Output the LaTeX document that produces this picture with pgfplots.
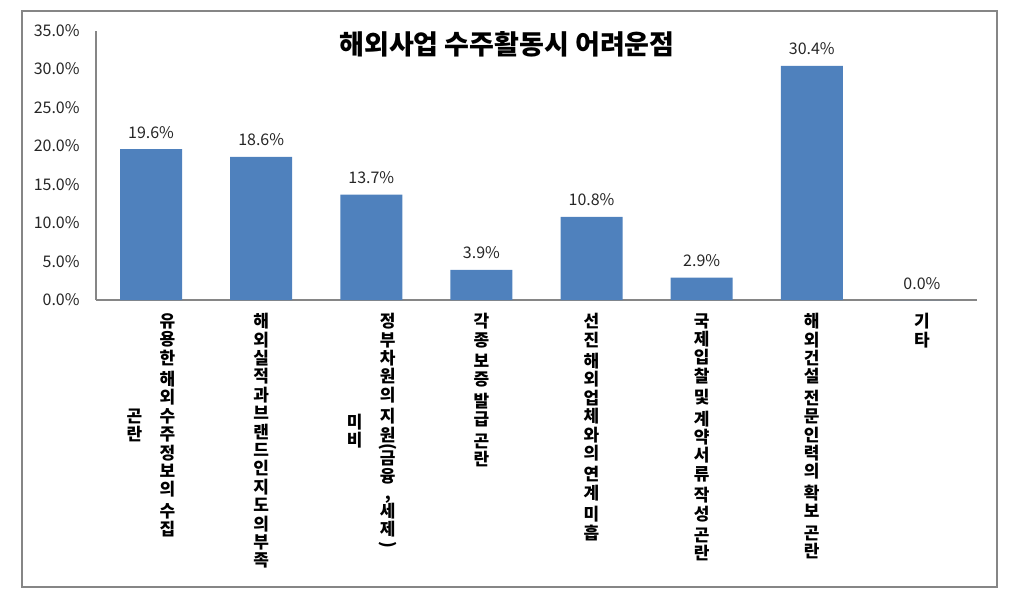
\documentclass[border=0pt]{standalone}
\usepackage{fontspec}
\setmainfont{Noto Sans CJK KR}
\usepackage{graphicx}
\usepackage{pgfplots}
\pgfplotsset{compat=1.18}
\definecolor{barblue}{HTML}{4F81BD}
\definecolor{axisgray}{HTML}{868686}
\definecolor{txt}{HTML}{262626}
\newcommand\V[1]{\parbox[c]{1.2em}{\centering\setlength\lineskiplimit{-20pt}\setlength\baselineskip{9.2pt}#1}}
\newcommand\LP{\rotatebox{-90}{(}}
\newcommand\RP{\rotatebox{-90}{)}}
\begin{document}
\begin{tikzpicture}
\path (-48pt,-150pt) rectangle (465pt,150pt);
\draw[axisgray, line width=1pt] (-37pt,-143.5pt) rectangle (450.5pt,144.5pt);
\begin{axis}[
  at={(0pt,0pt)}, anchor=south west,
  scale only axis, width=440.5pt, height=134.75pt,
  xmin=-0.5, xmax=7.5, ymin=0, ymax=35,
  axis x line*=bottom, axis y line*=left,
  axis line style={-, draw=axisgray, line width=0.8pt},
  major tick length=0pt,
  ytick={0,5,...,35},
  yticklabel={\pgfmathprintnumber[fixed,fixed zerofill,precision=1]{\tick}\%},
  yticklabel style={font=\fontsize{8}{9}\selectfont, text=txt, anchor=east, inner sep=0pt, xshift=-8pt},
  /pgf/number format/assume math mode=true,
  xtick={0,...,7},
  xticklabels={
    {\V{곤\\란}\hspace{6.3pt}\V{유\\용\\한\\[1.5pt]해\\외\\수\\주\\정\\보\\의\\[1.5pt]수\\집}},
    {\V{해\\외\\실\\적\\과\\브\\랜\\드\\인\\지\\도\\의\\부\\족}},
    {\V{미\\비}\hspace{6.3pt}\V{정\\부\\차\\원\\의\\[1.5pt]지\\원\\[-8.1pt]\LP\\[1.2pt]금\\융\\[-0.7pt],\\[-0.2pt]세\\제\\[-6.4pt]\RP}},
    {\V{각\\종\\[1.5pt]보\\증\\[1.5pt]발\\급\\[1.5pt]곤\\란}},
    {\V{선\\진\\[1.5pt]해\\외\\업\\체\\와\\의\\[1.5pt]연\\계\\[1.5pt]미\\흡}},
    {\V{국\\제\\입\\찰\\[1.5pt]및\\[1.5pt]계\\약\\서\\류\\[1.5pt]작\\성\\[1.5pt]곤\\란}},
    {\V{해\\외\\건\\설\\[1.5pt]전\\문\\인\\력\\의\\[1.5pt]확\\보\\[1.5pt]곤\\란}},
    {\V{기\\타}}
  },
  xticklabel style={font=\fontsize{8.5}{9.2}\selectfont\bfseries, text=black, anchor=north, inner sep=0pt, yshift=-6.5pt},
  ybar, bar width=31pt,
  nodes near coords={\pgfmathprintnumber[fixed,fixed zerofill,precision=1]{\pgfplotspointmeta}\%},
  every node near coord/.append style={font=\fontsize{8}{9}\selectfont, text=txt, anchor=base, inner sep=0pt, yshift=5.5pt},
]
\addplot[fill=barblue, draw=none] coordinates {
  (0,19.6) (1,18.6) (2,13.7) (3,3.9) (4,10.8) (5,2.9) (6,30.4) (7,0.0)
};
\end{axis}
\node[font=\fontsize{13.5}{15}\selectfont\bfseries, text=black] at (205.5pt,128pt) {해외사업 수주활동시 어려운점};
\end{tikzpicture}
\end{document}
